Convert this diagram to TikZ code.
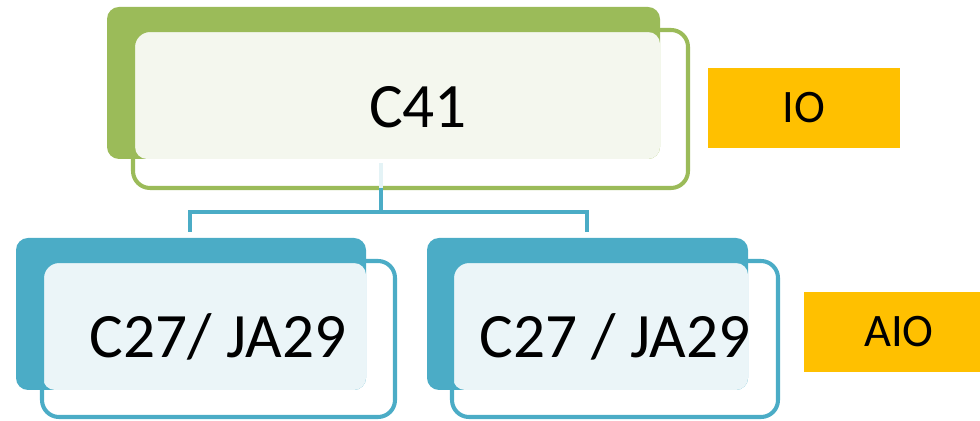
\documentclass[tikz,border=0pt]{standalone}
\usepackage{fontspec}
\setmainfont{Carlito}
\definecolor{leafgreen}{HTML}{9BBB59}
\definecolor{leafblue}{HTML}{4BACC6}
\definecolor{tagorange}{HTML}{FFC000}
\definecolor{greentint}{HTML}{F4F7EE}
\definecolor{bluetint}{HTML}{EBF5F8}
\begin{document}
\begin{tikzpicture}[x=0.02cm,y=-0.02cm,
  backbox/.style={rounded corners=0.24cm},
  rim/.style={line width=2.3pt, rounded corners=0.34cm},
  link/.style={leafblue, line width=2.3pt},
  bigtext/.style={text=black, font=\fontsize{36}{40}\selectfont},
  tag/.style={fill=tagorange, text=black, minimum height=1.6cm, font=\fontsize{26.5}{30}\selectfont}]
\useasboundingbox (0,0) rectangle (980,421);
% top box
\fill[leafgreen, backbox] (107,7) rectangle (660,159);
\fill[greentint, backbox] (135,32) rectangle (660,159);
\draw[leafgreen, rim] (133,30) rectangle (688,188);
\node[bigtext] (c41) at (418,107) {C41};
% connector
\coordinate (c41foot) at (381,188);
\coordinate (hub) at (381,212); % branch point
\coordinate (ltop) at (190,232); % left child
\coordinate (rtop) at (587,232); % right child
\draw[leafblue!15, line width=2.3pt] (381,163) -- (c41foot);
\draw[link] (c41foot) -- (hub);
\draw[link] (ltop) |- (hub) -| (rtop);
% left child
\fill[leafblue, backbox] (16,238) rectangle (366,390);
\fill[bluetint, backbox] (43,263) rectangle (366,390);
\draw[leafblue, rim] (42,261) rectangle (395,417);
\node[bigtext] (lchild) at (218,337) {C27/ JA29};
% right child
\fill[leafblue, backbox] (427,238) rectangle (748,390);
\fill[bluetint, backbox] (453,263) rectangle (748,390);
\draw[leafblue, rim] (452,261) rectangle (778,417);
\node[bigtext] (rchild) at (615,337) {C27 / JA29};
% level tags
\node[tag, minimum width=3.84cm] (io) at (804,108) {IO};
\node[tag, minimum width=3.8cm] (aio) at (899,332) {AIO};
\end{tikzpicture}
\end{document}
